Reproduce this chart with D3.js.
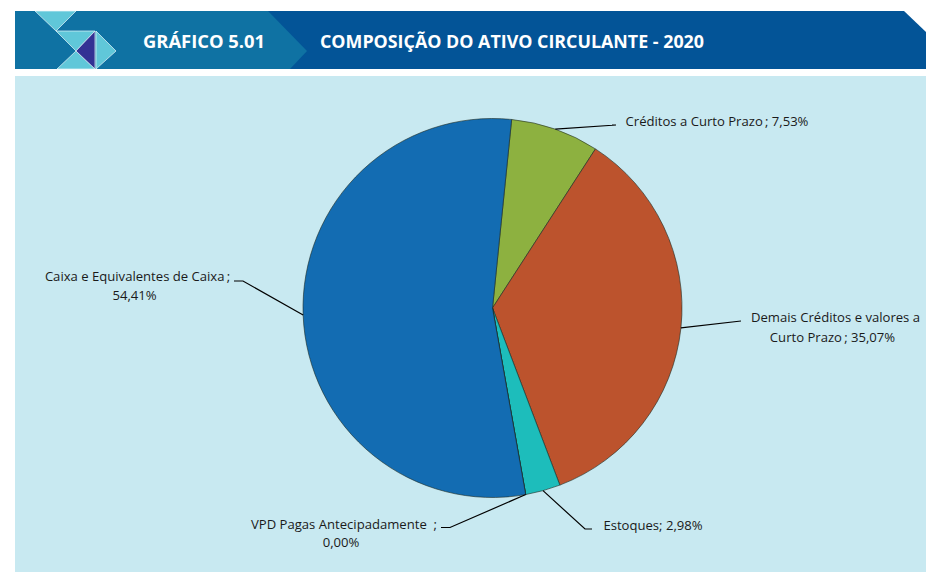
<!DOCTYPE html>
<html><head><meta charset="utf-8">
<script src="https://cdnjs.cloudflare.com/ajax/libs/d3/7.8.5/d3.min.js"></script>
<style>html,body{margin:0;padding:0;background:#fff}svg{display:block}</style>
</head><body><svg id="c" width="926" height="572"></svg>
<script>
const categories=["Créditos a Curto Prazo","Demais Créditos e valores a Curto Prazo","Estoques","VPD Pagas Antecipadamente","Caixa e Equivalentes de Caixa"];
const values=[7.53,35.07,2.98,0.00,54.41];
const colors=["#8DB140","#BC532D","#1DBDBB","#7f7f7f","#136CB2"];
const labelLines=[
 ["Créditos a Curto Prazo\u2009; 7,53%"],
 ["Demais Créditos e valores a","Curto Prazo\u2009; 35,07%"],
 ["Estoques; 2,98%"],
 ["VPD Pagas Antecipadamente  ;","0,00%"],
 ["Caixa e Equivalentes de Caixa\u2009;","54,41%"]];
const labelPos=[[[717,121]],[[835.5,317],[832.5,337]],[[653,525]],[[344,524],[341,542]],[[137.5,276],[134.5,295]]];
const elbows=[[[616,125],[612,125]],[[741,321],[741,321]],[[585,529],[592,529]],[[450,527.5],[441,527.5]],[[243,281],[234,281]]];
const svg=d3.select("#c");
const font="'Open Sans','Noto Sans',sans-serif";
const poly=(p,f)=>svg.append("polygon").attr("points",p.map(d=>d.join(",")).join(" ")).attr("fill",f);
svg.append("rect").attr("x",15).attr("y",76).attr("width",911).attr("height",496).attr("fill","#C8E9F1");
poly([[15,11],[904,11],[926,32],[926,69],[15,69]],"#035497");
poly([[15,11],[268,11],[307,51],[290,69],[15,69]],"#0F72A3");
const tri=(p,f)=>poly(p,f).attr("stroke","#e8f6fa").attr("stroke-width",0.7);
tri([[35,11],[76,11],[56,31]],"#60C7D9");
tri([[56,31],[95,31],[76,51]],"#60C7D9");
tri([[96,31],[116,51],[96,69]],"#60C7D9");
tri([[76,51],[95,69],[57,69]],"#60C7D9");
tri([[95,31],[76,51],[95,69]],"#333194");
const ttl=(x,t,w)=>svg.append("text").attr("x",x).attr("y",47.5).attr("fill","#fff").attr("font-family",font).attr("font-weight",700).attr("font-size",17.5).attr("textLength",w).attr("lengthAdjust","spacingAndGlyphs").text(t);
ttl(143,"GRÁFICO 5.01",122);
ttl(320,"COMPOSIÇÃO DO ATIVO CIRCULANTE - 2020",384);

const cx=492.5,cy=308,R=189.5;
const start=5.8*Math.PI/180;
const pie=d3.pie().sort(null).startAngle(start).endAngle(start+2*Math.PI);
const arcs=pie(values);
const arc=d3.arc().innerRadius(0).outerRadius(R);
const g=svg.append("g").attr("transform",`translate(${cx},${cy})`);
g.selectAll("path").data(arcs).join("path").attr("d",arc).attr("fill",(d,i)=>colors[i]).attr("stroke","#1c2a22").attr("stroke-width",0.6);
arcs.forEach((d,i)=>{
 const a=(d.startAngle+d.endAngle)/2;
 const p=[cx+R*Math.sin(a),cy-R*Math.cos(a)];
 svg.append("path").attr("d",d3.line()([p,elbows[i][0],elbows[i][1]])).attr("fill","none").attr("stroke","#000").attr("stroke-width",1.2);
 labelLines[i].forEach((t,k)=>svg.append("text").attr("x",labelPos[i][k][0]).attr("y",labelPos[i][k][1]+4.5).attr("text-anchor","middle")
  .attr("font-family",font).attr("font-size",13.1).attr("fill","#1a1a1a").style("white-space","pre").text(t));
});
</script></body></html>
